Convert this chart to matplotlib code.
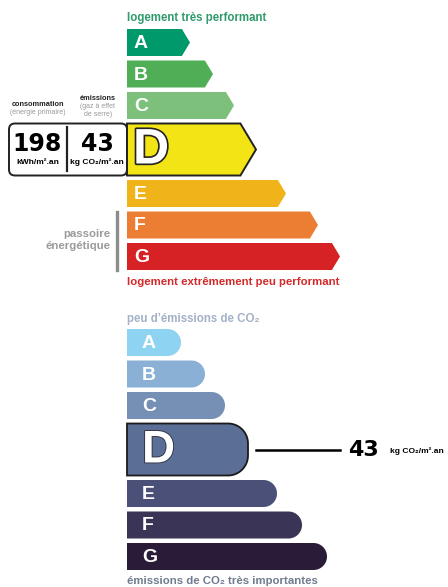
import numpy as np
import matplotlib.pyplot as plt
from matplotlib.patches import Polygon, FancyBboxPatch
import matplotlib.patheffects as pe

# --- data -------------------------------------------------------------
classes = ['A', 'B', 'C', 'D', 'E', 'F', 'G']
energy_colors = ['#00996b', '#4fae56', '#7cc07b', '#f2e415', '#f0b31a', '#eb7e32', '#d62224']
ges_colors = ['#8fd3f3', '#8ab1d5', '#7590b4', '#5b6e96', '#4b5078', '#3a3556', '#2a1c38']
energy_lengths = [63, 86, 107, 129, 159, 191, 213]   # bar length incl. arrow tip
ges_lengths = [54, 78, 98, 121, 150, 175, 200]
selected = 'D'
conso_value = 198
ges_value = 43
conso_unit = 'kWh/m².an'
ges_unit = 'kg CO₂/m².an'

SANS = ['Liberation Sans', 'DejaVu Sans']
X0 = 127
H, H_SEL, GAP = 27, 52, 4.5


def rows(y_start):
    out = []
    y = y_start
    for c in classes:
        h = H_SEL if c == selected else H
        out.append((y, h))
        y += h + GAP
    return out


def arrow(x0, length, y, h):
    d = 0.6 * h / 2
    xt = x0 + length
    return [(x0, y), (xt - d, y), (xt, y + h / 2), (xt - d, y + h), (x0, y + h)]


def rounded(x0, length, y, h):
    r = min(h / 2, 20)
    xr = x0 + length
    t = np.linspace(0, np.pi / 2, 20)
    top = np.column_stack([xr - r + r * np.sin(t), y + r - r * np.cos(t)])
    bot = np.column_stack([xr - r + r * np.cos(t), y + h - r + r * np.sin(t)])
    pts = [(x0, y)] + list(map(tuple, top)) + list(map(tuple, bot)) + [(x0, y + h)]
    return pts


fig = plt.figure(figsize=(4.48, 5.87), dpi=100)
ax = fig.add_axes([0, 0, 1, 1])
ax.set_xlim(0, 448)
ax.set_ylim(587, 0)
ax.axis('off')

# --- energy label (top) ------------------------------------------------
ax.text(X0, 18, 'logement très performant', color='#2f9a6b', fontsize=8.3,
        fontweight='bold', family=SANS, va='center', ha='left')

box = FancyBboxPatch((9, 123.5), X0 - 9, H_SEL, boxstyle='round,pad=0,rounding_size=6',
                     fc='white', ec='#222222', lw=1.4, zorder=2)
ax.add_patch(box)

for c, col, L, (y, h) in zip(classes, energy_colors, energy_lengths, rows(29)):
    sel = c == selected
    ax.add_patch(Polygon(arrow(X0, L, y, h), closed=True, fc=col,
                         ec='#222222' if sel else 'none', lw=1.4, zorder=3))
    if sel:
        t = ax.text(X0 + 6, y + h / 2 + 1, c, color='white', fontsize=36,
                    fontweight='bold', family=SANS, va='center', ha='left', zorder=4)
        t.set_path_effects([pe.withStroke(linewidth=2.4, foreground='#222222')])
    else:
        ax.text(X0 + 7, y + h / 2 + 1, c, color='white', fontsize=14,
                fontweight='bold', family=SANS, va='center', ha='left', zorder=4)

ax.text(X0, 282, 'logement extrêmement peu performant', color='#d3292a', fontsize=8.2,
        fontweight='bold', family=SANS, va='center', ha='left')

# value box
ax.plot([67, 67], [127, 171], color='#222222', lw=1.6, zorder=4)
ax.text(37, 144, str(conso_value), fontsize=17, fontweight='bold', family='DejaVu Sans',
        ha='center', va='center', zorder=4)
ax.text(38, 162, conso_unit, fontsize=6, fontweight='bold', family=SANS,
        ha='center', va='center', zorder=4)
ax.text(97, 144, str(ges_value), fontsize=17, fontweight='bold', family='DejaVu Sans',
        ha='center', va='center', zorder=4)
ax.text(97, 162, ges_unit, fontsize=6, fontweight='bold', family=SANS,
        ha='center', va='center', zorder=4)

ax.text(38, 105, 'consommation', fontsize=5.3, fontweight='bold', family=SANS,
        ha='center', va='center', color='#222222')
ax.text(38, 113, '(énergie primaire)', fontsize=5, family=SANS,
        ha='center', va='center', color='#999999')
ax.text(98, 99, 'émissions', fontsize=5.3, fontweight='bold', family=SANS,
        ha='center', va='center', color='#222222')
ax.text(98, 106, '(gaz à effet', fontsize=5, family=SANS,
        ha='center', va='center', color='#999999')
ax.text(98, 114, 'de serre)', fontsize=5, family=SANS,
        ha='center', va='center', color='#999999')

# passoire
ax.plot([117, 117], [212, 270], color='#8c8c8c', lw=2.4)
ax.text(110, 234, 'passoire', fontsize=8.2, fontweight='bold', family=SANS,
        ha='right', va='center', color='#9a9a9a')
ax.text(110, 246, 'énergétique', fontsize=8.2, fontweight='bold', family=SANS,
        ha='right', va='center', color='#9a9a9a')

# --- GES label (bottom) ------------------------------------------------
ax.text(X0, 319, 'peu d’émissions de CO₂', color='#a3b1c7', fontsize=8.3,
        fontweight='bold', family=SANS, va='center', ha='left')

for c, col, L, (y, h) in zip(classes, ges_colors, ges_lengths, rows(329)):
    sel = c == selected
    ax.add_patch(Polygon(rounded(X0, L, y, h), closed=True, fc=col,
                         ec='#1a1a1a' if sel else 'none', lw=1.3, zorder=3))
    if sel:
        t = ax.text(X0 + 15, y + h / 2 + 1, c, color='white', fontsize=33,
                    fontweight='bold', family=SANS, va='center', ha='left', zorder=4)
        t.set_path_effects([pe.withStroke(linewidth=1.2, foreground='#2a2a3a')])
        ymid = y + h / 2
        ax.plot([X0 + L + 8, X0 + L + 92], [ymid, ymid], color='black', lw=1.8)
        ax.text(348, ymid, str(ges_value), fontsize=16, fontweight='bold',
                family='DejaVu Sans', ha='left', va='center')
        ax.text(390, ymid + 2, ges_unit, fontsize=6, fontweight='bold',
                family=SANS, ha='left', va='center')
    else:
        ax.text(X0 + 15, y + h / 2 + 1, c, color='white', fontsize=14,
                fontweight='bold', family=SANS, va='center', ha='left', zorder=4)

ax.text(X0, 581, 'émissions de CO₂ très importantes', color='#6f7b8e', fontsize=8.2,
        fontweight='bold', family=SANS, va='center', ha='left')

fig.savefig('out.png', dpi=100)
